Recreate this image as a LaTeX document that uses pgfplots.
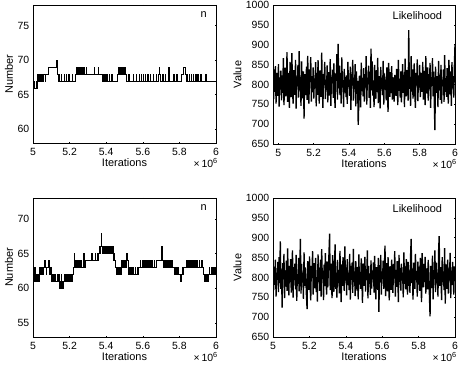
\documentclass[border=0pt]{standalone}
\usepackage{pgfplots}
\pgfplotsset{compat=1.18}
\usepackage{pgfplotstable}
\usepackage{fontspec}
\setmainfont{Liberation Sans}
\pgfplotstableread[row sep=\\]{
v\\
812\\ 763\\ 838\\ 781\\ 846\\ 752\\ 829\\ 795\\ 771\\ 851\\ 744\\ 818\\ 787\\ 835\\ 760\\
823\\ 779\\ 866\\ 748\\ 809\\ 842\\ 770\\ 797\\ 881\\ 756\\ 829\\ 788\\ 741\\ 857\\ 803\\
768\\ 879\\ 794\\ 752\\ 836\\ 811\\ 774\\ 862\\ 739\\ 820\\ 795\\ 849\\ 767\\ 884\\ 785\\
812\\ 746\\ 858\\ 791\\ 765\\ 833\\ 714\\ 826\\ 800\\ 773\\ 845\\ 761\\ 872\\ 789\\ 752\\
838\\ 806\\ 869\\ 757\\ 821\\ 781\\ 843\\ 764\\ 815\\ 790\\ 856\\ 745\\ 829\\ 774\\ 861\\
798\\ 752\\ 835\\ 817\\ 769\\ 880\\ 793\\ 741\\ 826\\ 805\\ 857\\ 763\\ 812\\ 786\\ 848\\
755\\ 831\\ 798\\ 772\\ 864\\ 746\\ 819\\ 803\\ 837\\ 766\\ 853\\ 784\\ 741\\ 828\\ 809\\
876\\ 762\\ 902\\ 790\\ 847\\ 773\\ 829\\ 752\\ 868\\ 796\\ 811\\ 743\\ 839\\ 780\\ 819\\
768\\ 823\\ 751\\ 857\\ 794\\ 812\\ 771\\ 845\\ 736\\ 826\\ 803\\ 862\\ 759\\ 817\\ 788\\
851\\ 745\\ 833\\ 776\\ 809\\ 698\\ 760\\ 822\\ 797\\ 742\\ 855\\ 783\\ 816\\ 770\\ 841\\
757\\ 826\\ 792\\ 871\\ 749\\ 814\\ 801\\ 847\\ 766\\ 832\\ 741\\ 890\\ 785\\ 858\\ 772\\
810\\ 743\\ 849\\ 798\\ 764\\ 836\\ 781\\ 867\\ 753\\ 821\\ 805\\ 740\\ 844\\ 788\\ 817\\
773\\ 859\\ 749\\ 828\\ 796\\ 812\\ 760\\ 843\\ 786\\ 731\\ 854\\ 801\\ 769\\ 831\\ 778\\
846\\ 762\\ 818\\ 791\\ 757\\ 824\\ 795\\ 771\\ 839\\ 809\\ 748\\ 862\\ 784\\ 813\\ 767\\
833\\ 755\\ 808\\ 851\\ 779\\ 824\\ 743\\ 865\\ 798\\ 770\\ 836\\ 812\\ 759\\ 937\\ 789\\
817\\ 746\\ 871\\ 782\\ 838\\ 764\\ 809\\ 853\\ 775\\ 741\\ 829\\ 800\\ 863\\ 758\\ 822\\
792\\ 849\\ 768\\ 813\\ 829\\ 781\\ 857\\ 762\\ 834\\ 796\\ 748\\ 871\\ 805\\ 777\\ 843\\
759\\ 826\\ 788\\ 854\\ 741\\ 818\\ 797\\ 866\\ 770\\ 832\\ 753\\ 685\\ 845\\ 779\\ 821\\
802\\ 743\\ 859\\ 786\\ 824\\ 761\\ 849\\ 752\\ 812\\ 795\\ 838\\ 756\\ 874\\ 781\\ 816\\
769\\ 841\\ 797\\ 752\\ 862\\ 808\\ 775\\ 833\\ 746\\ 856\\ 790\\ 821\\ 767\\ 847\\ 900\\
}\likeA
\pgfplotstableread[row sep=\\]{
v\\
873\\ 768\\ 827\\ 781\\ 845\\ 752\\ 812\\ 794\\ 839\\ 763\\ 851\\ 786\\ 891\\ 771\\ 820\\
724\\ 836\\ 795\\ 859\\ 748\\ 818\\ 777\\ 842\\ 766\\ 873\\ 801\\ 755\\ 829\\ 788\\ 846\\
762\\ 813\\ 868\\ 749\\ 826\\ 793\\ 835\\ 770\\ 857\\ 741\\ 808\\ 784\\ 849\\ 765\\ 822\\
897\\ 759\\ 834\\ 787\\ 812\\ 746\\ 863\\ 779\\ 825\\ 795\\ 752\\ 720\\ 841\\ 806\\ 769\\
853\\ 781\\ 742\\ 829\\ 798\\ 866\\ 757\\ 814\\ 836\\ 773\\ 849\\ 763\\ 801\\ 739\\ 858\\
789\\ 824\\ 766\\ 845\\ 752\\ 871\\ 796\\ 817\\ 743\\ 832\\ 778\\ 861\\ 808\\ 757\\ 840\\
775\\ 823\\ 862\\ 910\\ 768\\ 835\\ 791\\ 748\\ 856\\ 802\\ 764\\ 827\\ 883\\ 771\\ 812\\
749\\ 844\\ 786\\ 819\\ 760\\ 867\\ 797\\ 738\\ 833\\ 779\\ 851\\ 803\\ 766\\ 878\\ 792\\
825\\ 755\\ 846\\ 781\\ 812\\ 768\\ 859\\ 744\\ 829\\ 794\\ 837\\ 761\\ 872\\ 788\\ 815\\
753\\ 841\\ 799\\ 767\\ 826\\ 745\\ 858\\ 782\\ 814\\ 771\\ 848\\ 797\\ 736\\ 835\\ 806\\
779\\ 852\\ 764\\ 821\\ 793\\ 868\\ 747\\ 829\\ 784\\ 810\\ 756\\ 843\\ 772\\ 817\\ 795\\
838\\ 762\\ 854\\ 781\\ 745\\ 826\\ 803\\ 769\\ 849\\ 713\\ 831\\ 788\\ 857\\ 757\\ 815\\
796\\ 842\\ 771\\ 823\\ 880\\ 753\\ 807\\ 836\\ 765\\ 851\\ 790\\ 742\\ 828\\ 812\\ 769\\
845\\ 783\\ 761\\ 834\\ 797\\ 866\\ 752\\ 819\\ 776\\ 841\\ 803\\ 738\\ 857\\ 789\\ 824\\
767\\ 835\\ 792\\ 812\\ 750\\ 863\\ 784\\ 828\\ 770\\ 846\\ 801\\ 757\\ 839\\ 779\\ 818\\
761\\ 853\\ 897\\ 786\\ 822\\ 744\\ 837\\ 805\\ 771\\ 859\\ 793\\ 816\\ 752\\ 840\\ 782\\
827\\ 766\\ 849\\ 798\\ 738\\ 861\\ 812\\ 775\\ 834\\ 788\\ 852\\ 759\\ 823\\ 801\\ 770\\
844\\ 791\\ 756\\ 702\\ 829\\ 808\\ 773\\ 855\\ 745\\ 818\\ 796\\ 868\\ 763\\ 837\\ 785\\
812\\ 752\\ 864\\ 904\\ 779\\ 826\\ 797\\ 743\\ 851\\ 788\\ 815\\ 768\\ 874\\ 734\\ 833\\
806\\ 771\\ 845\\ 759\\ 823\\ 792\\ 862\\ 748\\ 817\\ 781\\ 839\\ 796\\ 757\\ 828\\ 810\\
}\likeB
\tikzset{xten/.style={anchor=north east, inner sep=0pt, font=\fontsize{10.5}{12}\selectfont}}
\begin{document}
\fontsize{11}{13}\selectfont
\begin{tikzpicture}
\useasboundingbox (0,0) rectangle (461bp,366bp);
\pgfplotsset{
  every axis/.append style={
    scale only axis,
    anchor=south west,
    tick align=inside,
    major tick length=1.5pt,
    axis line style={line width=0.6pt},
    tick style={line width=0.5pt,black},
    xtick={5,5.2,5.4,5.6,5.8,6},
    xticklabels={5,5.2,5.4,5.6,5.8,6},
    xmax=6,
    xlabel={Iterations},
    tick label style={font=\fontsize{10.5}{12}\selectfont},
    label style={font=\fontsize{11}{13}\selectfont},
    /pgf/number format/assume math mode=true,
    /pgf/number format/set thousands separator={},
    xticklabel style={yshift=-1pt},
    xlabel style={yshift=4pt},
    ylabel style={yshift=-3pt},
    clip mode=individual,
  },
}
% top-left
\begin{axis}[at={(33bp,223bp)}, width=183bp, height=138bp,
  xmin=5, ymin=58, ymax=78, ytick={60,65,70,75}, ylabel={Number}]
\addplot[const plot, black, line width=0.45pt] coordinates {
(5.000,67)(5.002,66)(5.008,67)(5.009,66)(5.016,67)(5.017,66)(5.022,67)(5.025,68)(5.026,67)(5.031,68)(5.032,67)(5.036,68)(5.038,67)(5.042,68)(5.043,67)(5.047,68)(5.049,67)(5.052,68)(5.056,67)(5.058,68)(5.068,67)(5.069,68)(5.082,69)(5.127,70)(5.130,69)(5.133,68)(5.138,67)(5.142,68)(5.144,67)(5.152,68)(5.154,67)(5.168,68)(5.170,67)(5.181,68)(5.183,67)(5.195,68)(5.197,67)(5.212,68)(5.214,67)(5.230,68)(5.234,69)(5.236,68)(5.240,69)(5.242,68)(5.245,69)(5.247,68)(5.250,69)(5.251,68)(5.254,69)(5.256,68)(5.259,69)(5.260,68)(5.264,69)(5.266,68)(5.270,69)(5.272,68)(5.278,69)(5.279,68)(5.292,69)(5.293,68)(5.335,69)(5.337,68)(5.355,69)(5.357,68)(5.378,67)(5.384,68)(5.386,67)(5.390,68)(5.391,67)(5.396,68)(5.398,67)(5.405,68)(5.407,67)(5.418,68)(5.419,67)(5.430,68)(5.432,67)(5.458,68)(5.466,69)(5.468,68)(5.472,69)(5.475,68)(5.478,69)(5.480,68)(5.484,69)(5.487,68)(5.492,69)(5.494,68)(5.500,69)(5.502,68)(5.512,67)(5.522,68)(5.524,67)(5.545,68)(5.547,67)(5.563,68)(5.565,67)(5.580,68)(5.582,67)(5.592,68)(5.594,67)(5.600,68)(5.602,67)(5.612,68)(5.614,67)(5.622,68)(5.624,67)(5.630,68)(5.632,67)(5.640,68)(5.642,67)(5.655,68)(5.657,67)(5.672,68)(5.676,67)(5.684,68)(5.688,69)(5.692,68)(5.695,67)(5.706,68)(5.708,67)(5.712,68)(5.714,67)(5.722,68)(5.724,67)(5.738,68)(5.741,69)(5.744,68)(5.747,67)(5.768,68)(5.770,67)(5.785,68)(5.787,67)(5.810,68)(5.820,69)(5.830,68)(5.838,67)(5.842,68)(5.844,67)(5.852,68)(5.854,67)(5.865,68)(5.867,67)(5.876,68)(5.878,67)(5.884,68)(5.886,67)(5.893,68)(5.895,67)(5.902,68)(5.904,67)(5.915,68)(5.917,67)(5.942,68)(5.944,67)(6.000,67)
};
\node[anchor=north east] at (rel axis cs:0.97,0.98) {n};
\node[xten] at ([xshift=2bp,yshift=-15.5bp]rel axis cs:1,0) {×\,10\textsuperscript{6}};
\end{axis}
% top-right
\begin{axis}[at={(273bp,222bp)}, width=182bp, height=139bp,
  xmin=4.97, ymin=650, ymax=1000, ytick={650,700,...,1000}, ylabel={Value}]
\addplot[black, line width=1.35pt] table[x expr={4.97+\coordindex*0.0034448}, y index=0] {\likeA};
\node[anchor=north east] at (rel axis cs:0.95,0.98) {Likelihood};
\node[xten] at ([xshift=2bp,yshift=-15.5bp]rel axis cs:1,0) {×\,10\textsuperscript{6}};
\end{axis}
% bottom-left
\begin{axis}[at={(33bp,29bp)}, width=183bp, height=139bp,
  xmin=5, ymin=53, ymax=73, ytick={55,60,65,70}, ylabel={Number}]
\addplot[const plot, black, line width=0.45pt] coordinates {
(5.000,62)(5.002,61)(5.004,63)(5.006,61)(5.008,62)(5.010,63)(5.012,61)(5.015,62)(5.018,61)(5.022,62)(5.024,61)(5.028,62)(5.030,61)(5.034,62)(5.036,63)(5.038,62)(5.042,63)(5.046,62)(5.049,63)(5.052,62)(5.055,63)(5.063,64)(5.065,63)(5.072,62)(5.074,63)(5.085,64)(5.087,63)(5.090,62)(5.093,63)(5.095,62)(5.098,63)(5.100,61)(5.105,62)(5.107,61)(5.113,62)(5.115,61)(5.122,62)(5.124,61)(5.130,62)(5.132,61)(5.140,62)(5.143,61)(5.146,60)(5.149,61)(5.152,62)(5.154,61)(5.156,60)(5.160,61)(5.163,60)(5.166,61)(5.170,62)(5.172,61)(5.176,62)(5.178,61)(5.182,62)(5.185,61)(5.190,62)(5.193,61)(5.197,62)(5.200,61)(5.205,62)(5.210,61)(5.214,62)(5.219,63)(5.223,65)(5.225,63)(5.232,64)(5.234,63)(5.240,64)(5.242,63)(5.248,64)(5.251,63)(5.256,64)(5.258,63)(5.264,64)(5.266,63)(5.272,64)(5.277,65)(5.279,64)(5.282,63)(5.286,64)(5.320,65)(5.322,64)(5.340,65)(5.342,64)(5.350,65)(5.352,64)(5.358,65)(5.362,66)(5.365,65)(5.368,66)(5.372,68)(5.374,66)(5.377,65)(5.380,66)(5.383,65)(5.386,66)(5.389,65)(5.392,66)(5.395,65)(5.398,66)(5.401,65)(5.404,66)(5.407,65)(5.410,66)(5.414,65)(5.418,66)(5.421,65)(5.425,66)(5.428,65)(5.432,66)(5.436,65)(5.440,64)(5.444,65)(5.446,64)(5.452,63)(5.455,62)(5.462,63)(5.464,62)(5.472,63)(5.474,62)(5.480,63)(5.484,64)(5.486,63)(5.492,64)(5.494,63)(5.500,64)(5.503,63)(5.508,64)(5.512,65)(5.514,64)(5.518,63)(5.522,62)(5.528,63)(5.530,62)(5.538,63)(5.540,62)(5.548,63)(5.550,62)(5.558,63)(5.560,62)(5.568,63)(5.570,62)(5.576,63)(5.585,64)(5.587,63)(5.595,64)(5.597,63)(5.604,64)(5.606,63)(5.614,64)(5.616,63)(5.622,64)(5.624,63)(5.632,64)(5.634,63)(5.642,64)(5.644,63)(5.652,64)(5.654,63)(5.662,64)(5.664,63)(5.674,64)(5.703,66)(5.706,64)(5.712,63)(5.716,64)(5.718,63)(5.722,64)(5.724,63)(5.730,64)(5.732,63)(5.736,64)(5.738,63)(5.744,64)(5.746,63)(5.752,64)(5.754,63)(5.760,64)(5.762,63)(5.770,62)(5.776,63)(5.778,62)(5.784,63)(5.786,62)(5.792,63)(5.794,62)(5.806,61)(5.808,62)(5.814,63)(5.818,62)(5.822,63)(5.840,64)(5.842,63)(5.848,64)(5.850,63)(5.856,64)(5.858,63)(5.864,64)(5.866,63)(5.872,64)(5.874,63)(5.882,64)(5.884,63)(5.890,64)(5.892,63)(5.898,64)(5.900,63)(5.908,64)(5.910,63)(5.920,64)(5.922,63)(5.932,62)(5.936,61)(5.940,62)(5.943,61)(5.948,62)(5.950,61)(5.955,62)(5.962,63)(5.964,62)(5.972,63)(5.974,62)(5.982,63)(5.984,62)(5.992,63)(5.994,62)(6.000,62)
};
\node[anchor=north east] at (rel axis cs:0.97,0.98) {n};
\node[xten] at ([xshift=2bp,yshift=-15.5bp]rel axis cs:1,0) {×\,10\textsuperscript{6}};
\end{axis}
% bottom-right
\begin{axis}[at={(273bp,29bp)}, width=182bp, height=139bp,
  xmin=5, ymin=650, ymax=1000, ytick={650,700,...,1000}, ylabel={Value}]
\addplot[black, line width=1.35pt] table[x expr={5+\coordindex/299}, y index=0] {\likeB};
\node[anchor=north east] at (rel axis cs:0.95,0.98) {Likelihood};
\node[xten] at ([xshift=2bp,yshift=-15.5bp]rel axis cs:1,0) {×\,10\textsuperscript{6}};
\end{axis}
\end{tikzpicture}
\end{document}
